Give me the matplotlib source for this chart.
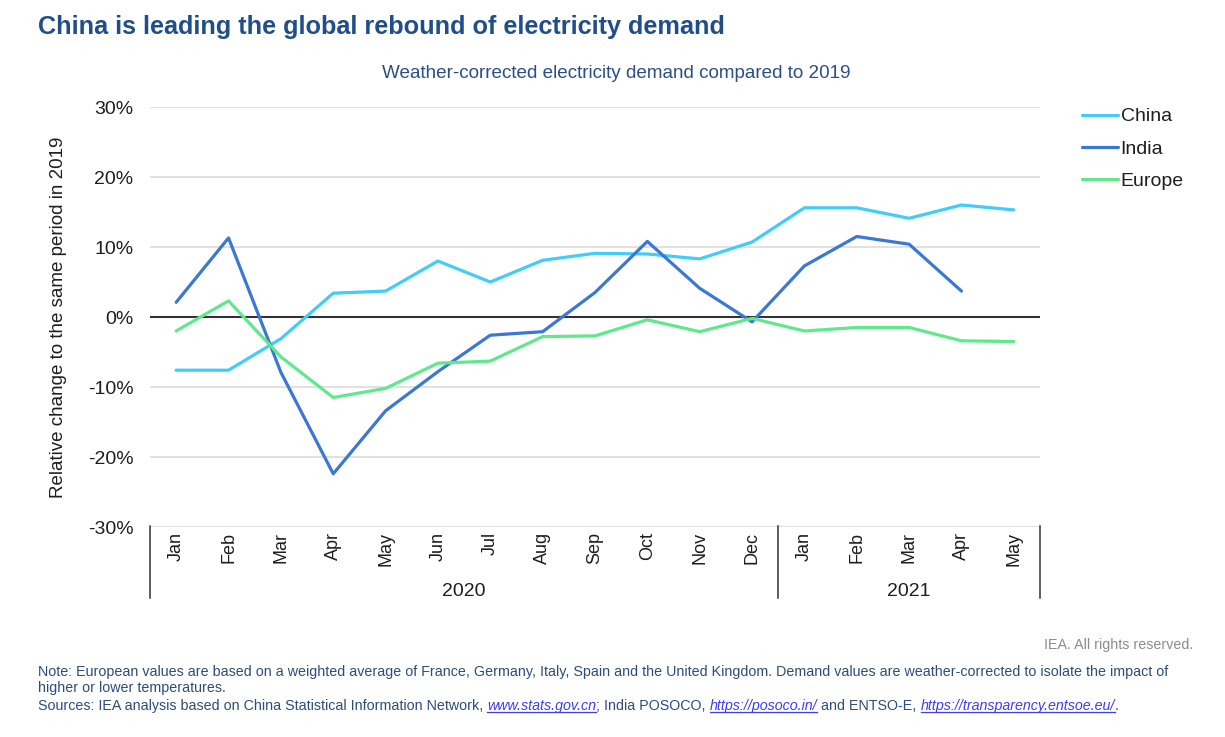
import numpy as np
import matplotlib
matplotlib.use('Agg')
import matplotlib.pyplot as plt
from matplotlib.lines import Line2D
import matplotlib.transforms as mtransforms

plt.rcParams['font.family'] = ['Liberation Sans', 'DejaVu Sans']

# data (percent vs same period of 2019)
months = ['Jan', 'Feb', 'Mar', 'Apr', 'May', 'Jun', 'Jul', 'Aug', 'Sep',
          'Oct', 'Nov', 'Dec', 'Jan', 'Feb', 'Mar', 'Apr', 'May']
years = ['2020', '2021']
year_len = [12, 5]
china = [-7.6, -7.6, -3.1, 3.4, 3.7, 8.0, 5.0, 8.1, 9.1, 9.0, 8.3, 10.7,
         15.6, 15.6, 14.1, 16.0, 15.3]
india = [2.1, 11.3, -7.9, -22.4, -13.4, -7.8, -2.6, -2.1, 3.5, 10.8, 4.1,
         -0.7, 7.3, 11.5, 10.4, 3.7, np.nan]
europe = [-2.0, 2.3, -5.7, -11.5, -10.2, -6.6, -6.3, -2.8, -2.7, -0.4,
          -2.1, -0.2, -2.0, -1.5, -1.5, -3.4, -3.5]

W, H = 1225, 737
fig = plt.figure(figsize=(W/100, H/100), dpi=100)
ax = fig.add_axes([150/W, 1-527/H, 890/W, 420/H])

txt_col = '#1e1e1e'
x = np.arange(len(months))
ax.plot(x, china, color='#41cdf8', lw=2.3, label='China', solid_capstyle='round')
ax.plot(x, india, color='#3b78d3', lw=2.3, label='India', solid_capstyle='round')
ax.plot(x, europe, color='#5fe98b', lw=2.3, label='Europe', solid_capstyle='round')

ax.set_xlim(-0.5, len(months)-0.5)
ax.set_ylim(-30, 30)
yt = np.arange(-30, 31, 10)
ax.set_yticks(yt)
ax.set_yticklabels(['%d%%' % v for v in yt], fontsize=14, color=txt_col)
for v in yt:
    if v != 0:
        ax.axhline(v, color='#dcdcdc', lw=1.2, zorder=0)
ax.axhline(0, color='#333333', lw=1.5, zorder=1)
for s in ax.spines.values():
    s.set_visible(False)
ax.tick_params(axis='y', length=0, pad=12)
ax.tick_params(axis='x', length=0, pad=3.5)
ax.set_xticks(x)
ax.set_xticklabels(months, rotation=90, fontsize=13, color=txt_col)
ax.set_ylabel('Relative change to the same period in 2019', fontsize=13.5,
              color=txt_col, labelpad=15)

# year groups under the months
tr = mtransforms.blended_transform_factory(ax.transData, ax.transAxes)
start = 0
bounds = [-0.5]
for yname, n in zip(years, year_len):
    mid = start + (n-1)/2
    ax.text(mid, -0.153, yname, transform=tr, ha='center', va='center',
            fontsize=14, color=txt_col)
    start += n
    bounds.append(start-0.5)
for b in bounds:
    ax.add_line(Line2D([b, b], [0.003, -0.17], transform=tr, color='#333333',
                       lw=1.1, clip_on=False))

leg = ax.legend(loc='upper left', bbox_to_anchor=(1.028, 1.04), frameon=False,
                fontsize=14, handlelength=1.85, handletextpad=0.12,
                labelspacing=0.75)
for t in leg.get_texts():
    t.set_color(txt_col)

fig.text(38/W, 1-27/H, 'China is leading the global rebound of electricity demand',
         fontsize=18.2, fontweight='bold', color='#1f4e8a', va='center')
fig.text(616/W, 1-74/H, 'Weather-corrected electricity demand compared to 2019',
         fontsize=13.6, color='#2a4f86', ha='center', va='center')

fs_note = 10.3
fig.text(1193/W, 1-645/H, 'IEA. All rights reserved.', fontsize=fs_note,
         color='#8c8c8c', ha='right', va='center')
note_col = '#2d4c7c'
fig.text(38/W, 1-672/H, 'Note: European values are based on a weighted average of France, '
         'Germany, Italy, Spain and the United Kingdom. Demand values are '
         'weather-corrected to isolate the impact of', fontsize=fs_note, color=note_col,
         va='center')
fig.text(38/W, 1-688/H, 'higher or lower temperatures.', fontsize=fs_note,
         color=note_col, va='center')

# sources line with links, pieces placed one after the other
pieces = [('Sources: IEA analysis based on China Statistical Information Network, ', False),
          ('www.stats.gov.cn', True), ('; India POSOCO, ', False),
          ('https://posoco.in/', True), (' and ENTSO-E, ', False),
          ('https://transparency.entsoe.eu/', True), ('.', False)]
link_col = '#3d3df0'
fig.canvas.draw()
r = fig.canvas.get_renderer()
xpos = 38
base = H - 710
for txt, is_link in pieces:
    t = fig.text(xpos/W, base/H, txt, fontsize=fs_note,
                 color=link_col if is_link else note_col,
                 style='italic' if is_link else 'normal', va='baseline')
    bb = t.get_window_extent(r)
    if is_link:
        fig.add_artist(Line2D([bb.x0/W, bb.x1/W], [(base-2)/H, (base-2)/H],
                              transform=fig.transFigure, color=link_col, lw=0.9))
    xpos = bb.x1

fig.savefig('out.png', dpi=100)
